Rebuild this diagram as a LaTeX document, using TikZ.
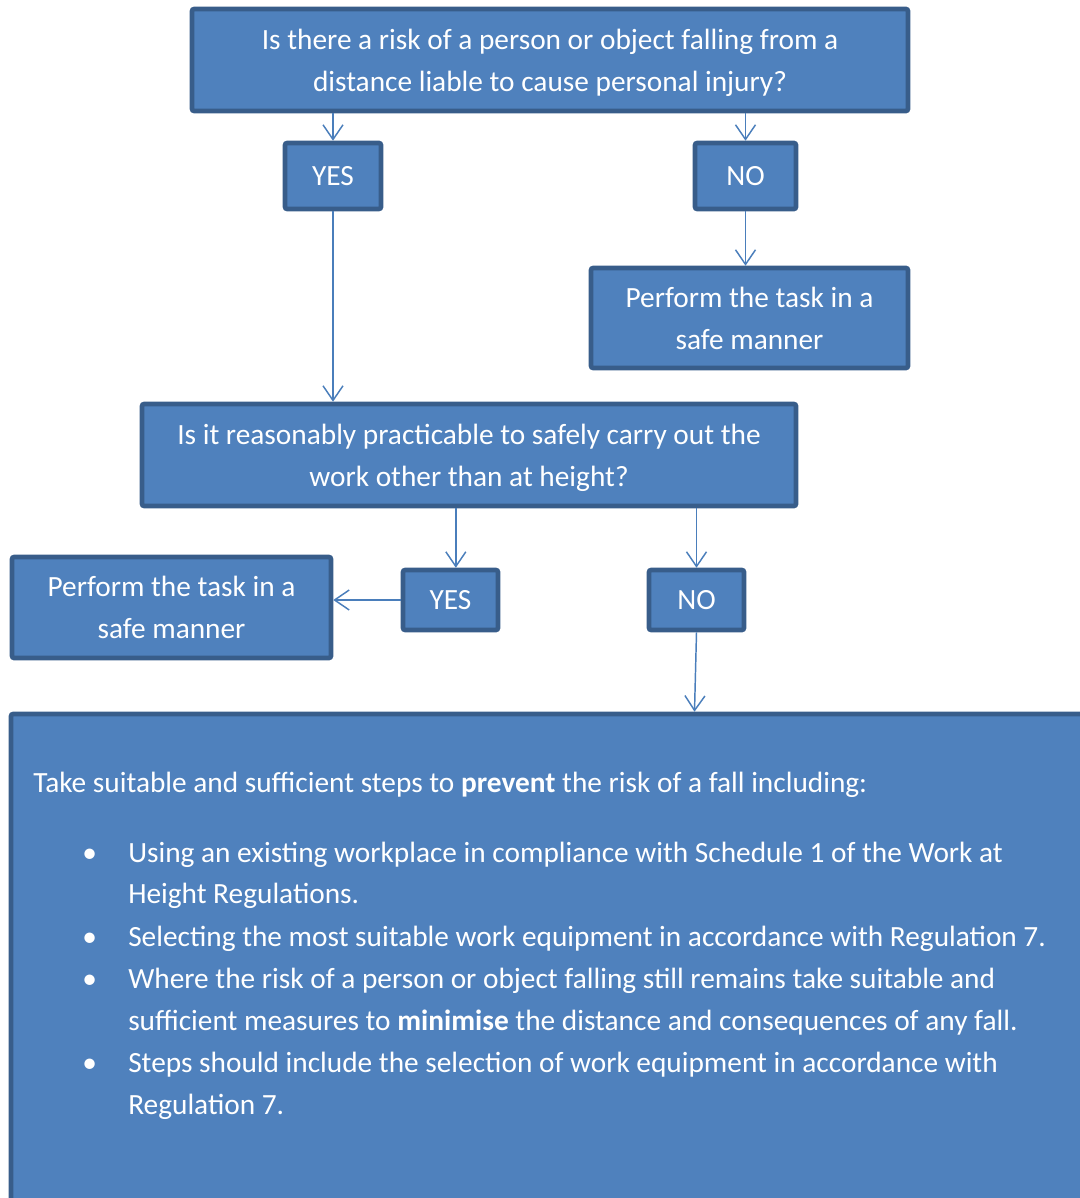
\documentclass[tikz,border=0pt]{standalone}
\usepackage{fontspec}
\setmainfont{Carlito}
\usetikzlibrary{arrows.meta}
\definecolor{boxfill}{HTML}{4F81BD}
\definecolor{boxline}{HTML}{385D8A}
\definecolor{arrowc}{HTML}{4A7EBB}
\begin{document}
\begin{tikzpicture}[x=0.75pt,y=-0.75pt,
 box/.style={draw=boxline, fill=boxfill, line width=3.4pt, rounded corners=1.5pt, text=white, align=center, font=\fontsize{22}{31.5}\selectfont, inner sep=0pt},
 btxt/.style={text=white, align=center, font=\fontsize{22}{31.5}\selectfont, inner sep=0pt, yshift=-2.2pt},
 arr/.style={draw=arrowc, line width=1.1pt, -{Straight Barb[length=11pt,width=15pt]}},
 txt/.style={text=white, font=\fontsize{22}{31.5}\selectfont, inner sep=0pt, anchor=base west}]
\useasboundingbox (0,0) rectangle (1080,1198);
\clip (0,0) rectangle (1080,1198);
\node[box, minimum width={716*0.75pt}, minimum height={102*0.75pt}, label={[btxt]center:{Is there a risk of a person or object falling from a\\distance liable to cause personal injury?}}] (q1) at (550,60) {};
\node[box, minimum width={96*0.75pt}, minimum height={66*0.75pt}] (yes1) at (333,176) {YES};
\node[box, minimum width={101*0.75pt}, minimum height={66*0.75pt}] (no1) at (745.5,176) {NO};
\node[box, minimum width={317*0.75pt}, minimum height={100*0.75pt}] (p1) at (749.5,318) {Perform the task in a\\safe manner};
\node[box, minimum width={654*0.75pt}, minimum height={102*0.75pt}, label={[btxt]center:{Is it reasonably practicable to safely carry out the\\work other than at height?}}] (q2) at (469,455) {};
\node[box, minimum width={319*0.75pt}, minimum height={101*0.75pt}] (p2) at (171.5,607.5) {Perform the task in a\\safe manner};
\node[box, minimum width={95*0.75pt}, minimum height={60*0.75pt}] (yes2) at (450.5,600) {YES};
\node[box, minimum width={95*0.75pt}, minimum height={60*0.75pt}] (no2) at (696.5,600) {NO};
\node[box, minimum width={1100*0.75pt}, minimum height={520*0.75pt}] (steps) at (561,974) {};
% connectors
\draw[arr] (q1.south -| yes1.north) -- (yes1.north);
\draw[arr] (q1.south -| no1.north) -- (no1.north);
\draw[arr] (yes1.south) -- (q2.north -| yes1.south);
\draw[arr] (no1.south) -- (p1.north -| no1.south);
\draw[arr] ([xshift=4pt]q2.south -| yes2.north) -- ([xshift=4pt]yes2.north);
\draw[arr] (q2.south -| no2.north) -- (no2.north);
\draw[arr] (yes2.west) -- (yes2.west -| p2.east);
\draw[arr] (no2.south) -- ([xshift=-1.5pt]no2.south |- steps.north);
% bottom text
\node[txt] (t0) at (33,792) {Take suitable and sufficient steps to \textbf{prevent} the risk of a fall including:};
\node[txt] (b1) at (82,862) {•};
\node[txt] (l1) at (128,862) {Using an existing workplace in compliance with Schedule 1 of the Work at};
\node[txt] (l1b) at (128,903) {Height Regulations.};
\node[txt] (b2) at (82,946) {•};
\node[txt] (l2) at (128,946) {Selecting the most suitable work equipment in accordance with Regulation 7.};
\node[txt] (b3) at (82,988) {•};
\node[txt] (l3) at (128,988) {Where the risk of a person or object falling still remains take suitable and};
\node[txt] (l3b) at (128,1030) {sufficient measures to \textbf{minimise} the distance and consequences of any fall.};
\node[txt] (b4) at (82,1072) {•};
\node[txt] (l4) at (128,1072) {Steps should include the selection of work equipment in accordance with};
\node[txt] (l4b) at (128,1114) {Regulation 7.};
\end{tikzpicture}
\end{document}
